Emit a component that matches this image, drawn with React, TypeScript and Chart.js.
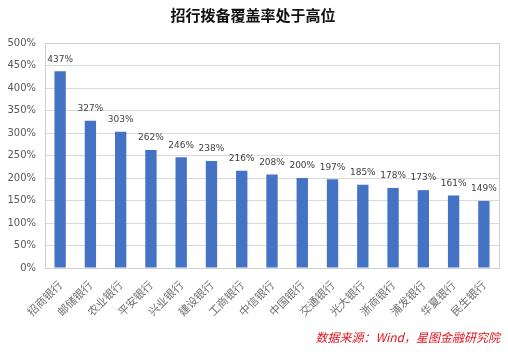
import React, { useEffect, useRef } from "react";
import { Chart, registerables } from "chart.js";

Chart.register(...registerables);

const title = "招行拨备覆盖率处于高位";
const source = "数据来源：Wind，星图金融研究院";
const banks = ["招商银行", "邮储银行", "农业银行", "平安银行", "兴业银行", "建设银行", "工商银行", "中信银行", "中国银行", "交通银行", "光大银行", "浙商银行", "浦发银行", "华夏银行", "民生银行"];
const coverage = [437, 327, 303, 262, 246, 238, 216, 208, 200, 197, 185, 178, 173, 161, 149];
const yMax = 500;
const yStep = 50;

const CJK = '"Noto Sans CJK SC", "Microsoft YaHei", sans-serif';

const overlayPlugin = {
  id: "overlay",
  afterDatasetsDraw(chart: any) {
    const ctx = chart.ctx;
    const meta = chart.getDatasetMeta(0);
    ctx.save();
    ctx.fillStyle = "#404040";
    ctx.font = '9px "DejaVu Sans", sans-serif';
    ctx.textAlign = "center";
    ctx.textBaseline = "middle";
    meta.data.forEach((el: any, i: number) => {
      ctx.fillText(coverage[i] + "%", el.x, el.y - 12);
    });
    ctx.restore();
  },
  afterDraw(chart: any) {
    const ctx = chart.ctx;
    const a = chart.chartArea;
    ctx.save();
    ctx.strokeStyle = "#d0d0d0";
    ctx.lineWidth = 1;
    ctx.strokeRect(Math.round(a.left) + 0.5, Math.round(a.top) + 0.5, Math.round(a.right - a.left), Math.round(a.bottom - a.top));
    ctx.fillStyle = "#111";
    ctx.font = "bold 15px " + CJK;
    ctx.textAlign = "center";
    ctx.textBaseline = "middle";
    ctx.fillText(title, 253, 15);
    ctx.fillStyle = "#e0141e";
    ctx.font = "italic 12px " + CJK;
    ctx.textAlign = "right";
    ctx.fillText(source, 500, 337);
    ctx.restore();
  },
};

export default function App() {
  const ref = useRef<HTMLCanvasElement>(null);
  useEffect(() => {
    const chart = new Chart(ref.current!, {
      type: "bar",
      data: {
        labels: banks,
        datasets: [
          {
            data: coverage,
            backgroundColor: "#4472c4",
            barPercentage: 0.72,
            categoryPercentage: 0.52,
          },
        ],
      },
      options: {
        animation: false,
        responsive: false,
        devicePixelRatio: 1,
        layout: { padding: { left: 0, right: 9, top: 43, bottom: 0 } },
        plugins: { legend: { display: false }, tooltip: { enabled: false }, title: { display: false } },
        scales: {
          x: {
            grid: { display: false },
            border: { color: "#d0d0d0" },
            ticks: {
              minRotation: 45,
              maxRotation: 45,
              color: "#707070",
              font: { size: 11, family: CJK },
              padding: 2,
              autoSkip: false,
            },
            afterFit: (s: any) => {
              s.height = 86;
            },
          },
          y: {
            min: 0,
            max: yMax,
            grid: { color: "#d9d9d9", drawTicks: false },
            border: { color: "#d0d0d0" },
            ticks: {
              stepSize: yStep,
              color: "#595959",
              font: { size: 10, family: '"DejaVu Sans", sans-serif' },
              padding: 9,
              callback: (v: any) => v + "%",
            },
            afterFit: (s: any) => {
              s.width = 45;
            },
          },
        },
      },
      plugins: [overlayPlugin],
    });
    return () => chart.destroy();
  }, []);
  return (
    <div style={{ position: "fixed", left: 0, top: 0, width: 508, height: 354, background: "#fff" }}>
      <canvas ref={ref} width={508} height={354} style={{ width: 508, height: 354 }} />
    </div>
  );
}
